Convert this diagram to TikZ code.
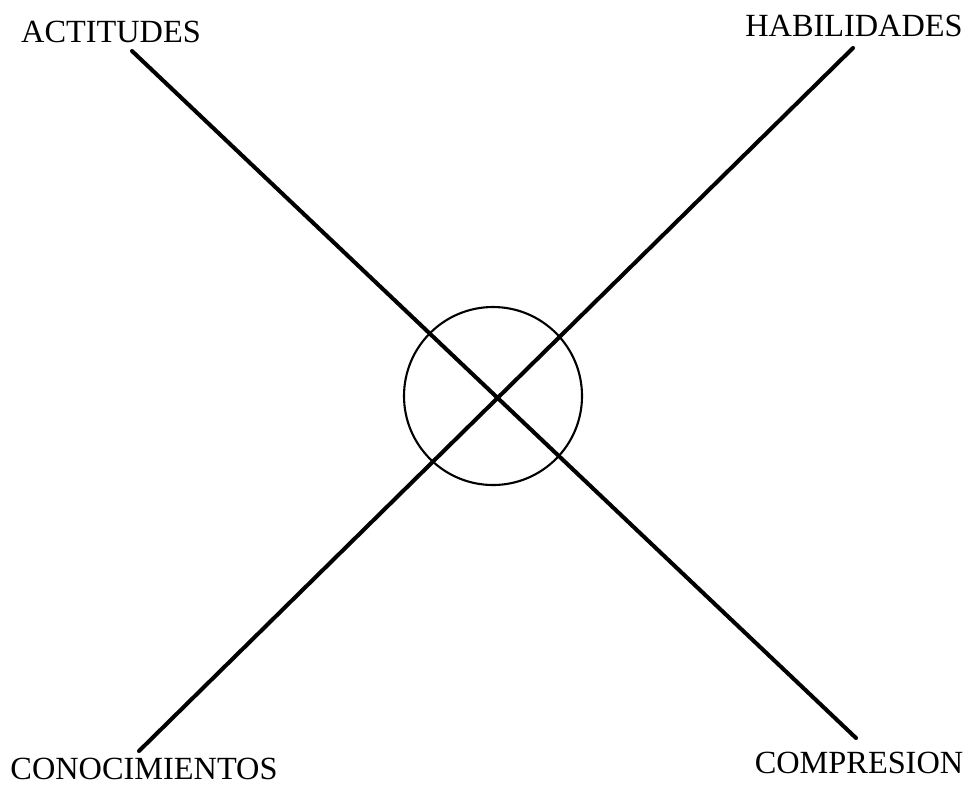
\documentclass[tikz,border=0pt]{standalone}
\usepackage{fontspec}
\setmainfont{Liberation Serif}
\usetikzlibrary{positioning}

\begin{document}
\begin{tikzpicture}[
    lbl/.style={inner sep=0pt, font=\fontsize{9.2}{11}\selectfont},
    axe/.style={line width=1.15pt, line cap=round},
    hub/.style={draw, circle, line width=0.6pt, minimum size=1.78cm, inner sep=0pt}
]
\useasboundingbox (0,0) rectangle (9.71,7.87);
\node[lbl] (act) at (1.11,7.555) {ACTITUDES};
\node[lbl] (hab) at (8.54,7.61) {HABILIDADES};
\node[lbl] (con) at (1.44,0.18) {CONOCIMIENTOS};
\node[lbl] (com) at (8.59,0.245) {COMPRESION};
\node[hub] (mid) at (4.93,3.91) {};

\coordinate (actE) at (1.32,7.36);
\coordinate (comE) at (8.56,0.49);
\coordinate (habE) at (8.53,7.39);
\coordinate (conE) at (1.39,0.36);

\draw[axe] (actE) -- (comE);
\draw[axe] (habE) -- (conE);
\end{tikzpicture}
\end{document}
